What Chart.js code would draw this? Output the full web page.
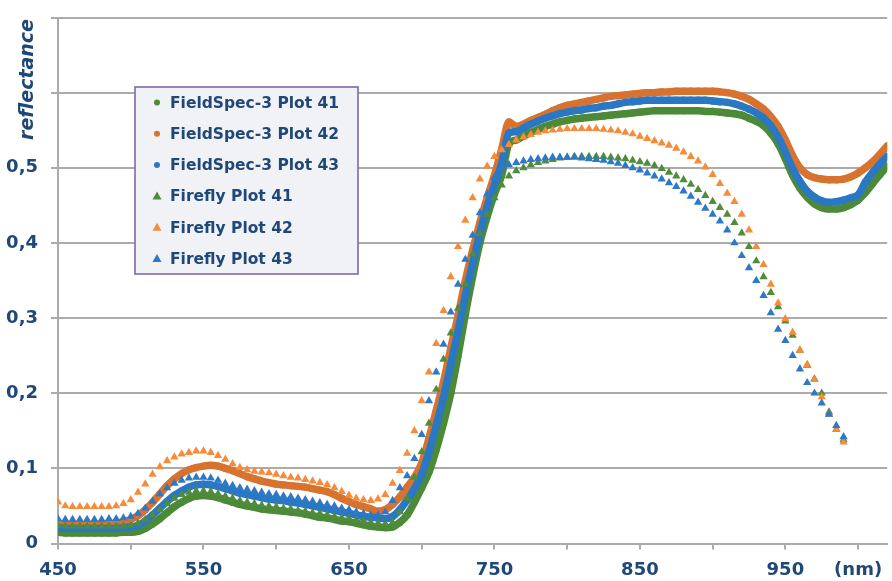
<!DOCTYPE html>
<html>
<head>
<meta charset="utf-8">
<title>Reflectance spectra</title>
<script src="https://cdn.jsdelivr.net/npm/chart.js@4.4.1/dist/chart.umd.min.js"></script>
<style>
  html, body { margin: 0; padding: 0; background: #ffffff; }
  #wrap { width: 892px; height: 581px; }
</style>
</head>
<body>
<div id="wrap"><canvas id="chart" width="892" height="581"></canvas></div>
<script>
// Wavelengths (nm) of the FieldSpec-3 samples; the Firefly samples stop at 990 nm.
const fieldSpecWavelengths = [
  450, 455, 460, 465, 470, 475, 480, 485, 490, 495,
  500, 505, 510, 515, 520, 525, 530, 535, 540, 545,
  550, 555, 560, 565, 570, 575, 580, 585, 590, 595,
  600, 605, 610, 615, 620, 625, 630, 635, 640, 645,
  650, 655, 660, 665, 670, 675, 680, 685, 690, 695,
  700, 705, 710, 715, 720, 725, 730, 735, 740, 745,
  750, 755, 760, 765, 770, 775, 780, 785, 790, 795,
  800, 805, 810, 815, 820, 825, 830, 835, 840, 845,
  850, 855, 860, 865, 870, 875, 880, 885, 890, 895,
  900, 905, 910, 915, 920, 925, 930, 935, 940, 945,
  950, 955, 960, 965, 970, 975, 980, 985, 990, 995,
  1000, 1005, 1010, 1015, 1020
];
const fireflyWavelengths = fieldSpecWavelengths.filter(w => w <= 990);

// FieldSpec-3 reflectance
const fieldSpec41 = [
  0.015, 0.014, 0.014, 0.014, 0.014, 0.014, 0.014, 0.014, 0.014, 0.015,
  0.015, 0.016, 0.020, 0.026, 0.033, 0.041, 0.049, 0.055, 0.060, 0.063,
  0.064, 0.063, 0.061, 0.058, 0.055, 0.052, 0.050, 0.048, 0.046, 0.045,
  0.044, 0.043, 0.042, 0.041, 0.039, 0.037, 0.035, 0.034, 0.032, 0.030,
  0.029, 0.027, 0.025, 0.023, 0.022, 0.021, 0.022, 0.028, 0.038, 0.055,
  0.074, 0.095, 0.125, 0.160, 0.200, 0.250, 0.305, 0.355, 0.400, 0.435,
  0.465, 0.490, 0.532, 0.537, 0.542, 0.547, 0.551, 0.555, 0.558, 0.561,
  0.563, 0.565, 0.566, 0.567, 0.568, 0.569, 0.570, 0.571, 0.572, 0.573,
  0.574, 0.575, 0.576, 0.576, 0.576, 0.576, 0.576, 0.576, 0.576, 0.575,
  0.575, 0.574, 0.573, 0.572, 0.570, 0.566, 0.562, 0.556, 0.546, 0.532,
  0.512, 0.490, 0.473, 0.461, 0.452, 0.447, 0.445, 0.445, 0.447, 0.451,
  0.457, 0.467, 0.479, 0.491, 0.502
];
const fieldSpec42 = [
  0.026, 0.025, 0.025, 0.025, 0.025, 0.025, 0.025, 0.026, 0.027, 0.029,
  0.032, 0.037, 0.045, 0.055, 0.066, 0.077, 0.086, 0.093, 0.098, 0.101,
  0.103, 0.104, 0.103, 0.100, 0.097, 0.093, 0.089, 0.086, 0.083, 0.081,
  0.079, 0.078, 0.077, 0.076, 0.075, 0.073, 0.071, 0.069, 0.065, 0.060,
  0.056, 0.052, 0.049, 0.046, 0.043, 0.045, 0.052, 0.062, 0.075, 0.088,
  0.107, 0.140, 0.177, 0.215, 0.260, 0.303, 0.350, 0.390, 0.427, 0.460,
  0.490, 0.525, 0.561, 0.555, 0.558, 0.563, 0.567, 0.571, 0.576, 0.580,
  0.583, 0.585, 0.587, 0.589, 0.591, 0.593, 0.595, 0.596, 0.597, 0.598,
  0.599, 0.600, 0.600, 0.601, 0.601, 0.602, 0.602, 0.602, 0.602, 0.602,
  0.602, 0.601, 0.600, 0.598, 0.595, 0.591, 0.585, 0.578, 0.568, 0.555,
  0.537, 0.516, 0.500, 0.491, 0.487, 0.485, 0.484, 0.484, 0.485, 0.488,
  0.493, 0.500, 0.508, 0.518, 0.529
];
const fieldSpec43 = [
  0.021, 0.020, 0.020, 0.020, 0.020, 0.020, 0.020, 0.020, 0.020, 0.021,
  0.022, 0.024, 0.030, 0.038, 0.047, 0.056, 0.064, 0.070, 0.075, 0.078,
  0.079, 0.078, 0.076, 0.073, 0.070, 0.067, 0.065, 0.063, 0.061, 0.059,
  0.058, 0.057, 0.055, 0.054, 0.052, 0.050, 0.048, 0.046, 0.044, 0.042,
  0.040, 0.038, 0.036, 0.035, 0.034, 0.033, 0.036, 0.045, 0.058, 0.073,
  0.092, 0.122, 0.157, 0.195, 0.238, 0.283, 0.330, 0.372, 0.413, 0.448,
  0.477, 0.506, 0.546, 0.548, 0.553, 0.558, 0.562, 0.566, 0.569, 0.572,
  0.574, 0.576, 0.577, 0.579, 0.580, 0.582, 0.583, 0.585, 0.587, 0.588,
  0.589, 0.590, 0.590, 0.590, 0.590, 0.590, 0.590, 0.590, 0.590, 0.590,
  0.589, 0.588, 0.587, 0.585, 0.582, 0.578, 0.573, 0.566, 0.556, 0.541,
  0.521, 0.499, 0.482, 0.469, 0.461, 0.456, 0.454, 0.455, 0.457, 0.460,
  0.464, 0.481, 0.494, 0.505, 0.515
];

// Firefly reflectance
const firefly41 = [
  0.024, 0.023, 0.023, 0.023, 0.023, 0.023, 0.023, 0.023, 0.023, 0.023,
  0.024, 0.027, 0.032, 0.038, 0.045, 0.053, 0.060, 0.065, 0.068, 0.070,
  0.070, 0.069, 0.066, 0.063, 0.060, 0.057, 0.055, 0.053, 0.051, 0.050,
  0.049, 0.047, 0.046, 0.044, 0.043, 0.041, 0.040, 0.038, 0.036, 0.034,
  0.033, 0.031, 0.030, 0.028, 0.027, 0.026, 0.028, 0.042, 0.060, 0.088,
  0.122, 0.160, 0.205, 0.245, 0.280, 0.313, 0.345, 0.385, 0.412, 0.438,
  0.460, 0.477, 0.489, 0.496, 0.500, 0.504, 0.507, 0.509, 0.511, 0.513,
  0.514, 0.515, 0.515, 0.515, 0.515, 0.515, 0.514, 0.513, 0.512, 0.510,
  0.508, 0.506, 0.503, 0.499, 0.494, 0.489, 0.484, 0.478, 0.471, 0.463,
  0.455, 0.447, 0.438, 0.427, 0.413, 0.395, 0.376, 0.355, 0.334, 0.315,
  0.296, 0.277, 0.257, 0.237, 0.219, 0.200, 0.175, 0.152, 0.138
];
const firefly42 = [
  0.055, 0.050, 0.049, 0.049, 0.049, 0.049, 0.049, 0.049, 0.050, 0.053,
  0.058, 0.068, 0.079, 0.092, 0.102, 0.110, 0.115, 0.119, 0.121, 0.123,
  0.123, 0.121, 0.117, 0.112, 0.106, 0.101, 0.098, 0.096, 0.095, 0.094,
  0.092, 0.090, 0.088, 0.087, 0.085, 0.083, 0.081, 0.078, 0.074, 0.069,
  0.064, 0.060, 0.058, 0.057, 0.059, 0.065, 0.080, 0.097, 0.120, 0.150,
  0.190, 0.228, 0.266, 0.310, 0.355, 0.395, 0.430, 0.460, 0.485, 0.502,
  0.515, 0.524, 0.531, 0.537, 0.541, 0.544, 0.547, 0.549, 0.550, 0.551,
  0.552, 0.552, 0.552, 0.552, 0.552, 0.551, 0.550, 0.549, 0.547, 0.545,
  0.542, 0.539, 0.536, 0.533, 0.530, 0.526, 0.521, 0.515, 0.509, 0.501,
  0.491, 0.479, 0.466, 0.455, 0.438, 0.417, 0.395, 0.371, 0.345, 0.320,
  0.299, 0.281, 0.257, 0.238, 0.218, 0.195, 0.172, 0.152, 0.135
];
const firefly43 = [
  0.033, 0.032, 0.032, 0.032, 0.032, 0.032, 0.032, 0.033, 0.033, 0.034,
  0.036, 0.040, 0.047, 0.056, 0.066, 0.074, 0.080, 0.084, 0.087, 0.088,
  0.088, 0.087, 0.084, 0.080, 0.077, 0.074, 0.072, 0.070, 0.068, 0.066,
  0.065, 0.063, 0.062, 0.060, 0.058, 0.056, 0.054, 0.052, 0.050, 0.047,
  0.045, 0.042, 0.040, 0.038, 0.038, 0.042, 0.057, 0.074, 0.090, 0.113,
  0.145, 0.190, 0.228, 0.265, 0.308, 0.345, 0.378, 0.410, 0.440, 0.465,
  0.487, 0.500, 0.504, 0.507, 0.509, 0.511, 0.512, 0.513, 0.514, 0.514,
  0.514, 0.514, 0.513, 0.512, 0.511, 0.510, 0.508, 0.506, 0.503, 0.500,
  0.497, 0.493, 0.489, 0.485, 0.480, 0.475, 0.469, 0.462, 0.454, 0.446,
  0.438, 0.429, 0.417, 0.400, 0.383, 0.367, 0.350, 0.330, 0.307, 0.285,
  0.270, 0.250, 0.232, 0.214, 0.200, 0.187, 0.172, 0.157, 0.142
];

// Axis ticks
const xTickValues = [450, 500, 550, 600, 650, 700, 750, 800, 850, 900, 950, 1000];
const xTickLabels = ['450', '', '550', '', '650', '', '750', '', '850', '', '950', '(nm)'];
const yTickValues = [0, 0.1, 0.2, 0.3, 0.4, 0.5, 0.6, 0.7];
const yTickLabels = ['0', '0,1', '0,2', '0,3', '0,4', '0,5', '', ''];

const seriesNames = [
  'FieldSpec-3 Plot 41', 'FieldSpec-3 Plot 42', 'FieldSpec-3 Plot 43',
  'Firefly Plot 41', 'Firefly Plot 42', 'Firefly Plot 43'
];

const NAVY = '#1F4778';
const GRID = '#ababab';

function toPoints(xs, ys) {
  return ys.map((y, i) => ({ x: xs[i], y: y }));
}

function fieldSpecSet(label, data, color, order) {
  return {
    label: label,
    data: toPoints(fieldSpecWavelengths, data),
    borderColor: color,
    backgroundColor: color,
    borderWidth: 7.5,
    borderCapStyle: 'round',
    borderJoinStyle: 'round',
    cubicInterpolationMode: 'monotone',
    pointStyle: 'circle',
    pointRadius: 3.6,
    pointBorderWidth: 0,
    showLine: true,
    order: order
  };
}

function fireflySet(label, data, color, order) {
  return {
    label: label,
    data: toPoints(fireflyWavelengths, data),
    borderColor: color,
    backgroundColor: color,
    showLine: false,
    pointStyle: 'triangle',
    pointRadius: 4.8,
    pointBorderWidth: 0,
    order: order
  };
}

// Boxed legend drawn inside the plot area
const boxedLegend = {
  id: 'boxedLegend',
  afterDatasetsDraw(chart) {
    const ctx = chart.ctx;
    const bx = 135, by = 87, bw = 223, bh = 187;
    ctx.save();
    ctx.fillStyle = '#F1F2F6';
    ctx.fillRect(bx, by, bw, bh);
    ctx.strokeStyle = '#7F68A8';
    ctx.lineWidth = 1.6;
    ctx.strokeRect(bx, by, bw, bh);
    ctx.font = 'bold 15.5px "DejaVu Sans"';
    ctx.textBaseline = 'middle';
    ctx.textAlign = 'left';
    chart.data.datasets.forEach((ds, i) => {
      const y = by + 15.5 + i * 31.3;
      const mx = bx + 22;
      ctx.fillStyle = ds.backgroundColor;
      ctx.beginPath();
      if (ds.pointStyle === 'triangle') {
        ctx.moveTo(mx, y - 5);
        ctx.lineTo(mx + 4.5, y + 3);
        ctx.lineTo(mx - 4.5, y + 3);
        ctx.closePath();
      } else {
        ctx.arc(mx, y, 3, 0, Math.PI * 2);
      }
      ctx.fill();
      ctx.fillStyle = NAVY;
      ctx.fillText(ds.label, bx + 35, y + 1);
    });
    ctx.restore();
  }
};

// Rotated y-axis caption sitting above the tick labels
const yCaption = {
  id: 'yCaption',
  afterDraw(chart) {
    const ctx = chart.ctx;
    ctx.save();
    ctx.translate(33, chart.chartArea.top + 62);
    ctx.rotate(-Math.PI / 2);
    ctx.font = 'italic bold 19px "DejaVu Sans"';
    ctx.fillStyle = NAVY;
    ctx.textAlign = 'center';
    ctx.textBaseline = 'alphabetic';
    ctx.fillText('reflectance', 0, 0);
    ctx.restore();
  }
};

const tickFont = { family: 'DejaVu Sans', weight: 'bold', size: 18 };

new Chart(document.getElementById('chart'), {
  type: 'scatter',
  data: {
    datasets: [
      fieldSpecSet(seriesNames[0], fieldSpec41, '#4C8A38', 6),
      fieldSpecSet(seriesNames[1], fieldSpec42, '#D8722F', 5),
      fieldSpecSet(seriesNames[2], fieldSpec43, '#2A78C4', 4),
      fireflySet(seriesNames[3], firefly41, '#4F8C3B', 3),
      fireflySet(seriesNames[4], firefly42, '#F68B3A', 2),
      fireflySet(seriesNames[5], firefly43, '#2D79C7', 1)
    ]
  },
  options: {
    responsive: false,
    devicePixelRatio: 1,
    animation: false,
    layout: { padding: { top: 17.5, right: 0, bottom: 0, left: 0 } },
    plugins: {
      legend: { display: false },
      tooltip: { enabled: false },
      title: { display: false }
    },
    scales: {
      x: {
        type: 'linear',
        min: 450,
        max: 1020,
        afterBuildTicks(scale) {
          scale.ticks = xTickValues.map(v => ({ value: v }));
        },
        afterFit(scale) {
          scale.height = 37.5;
          scale.paddingLeft = 0;
          scale.paddingRight = 0;
        },
        ticks: {
          autoSkip: false,
          maxRotation: 0,
          padding: 10,
          color: NAVY,
          font: tickFont,
          callback: (value, index) => xTickLabels[index]
        },
        grid: {
          drawOnChartArea: false,
          drawTicks: true,
          tickLength: 6,
          color: GRID,
          lineWidth: 2
        },
        border: { display: true, color: GRID, width: 2 }
      },
      y: {
        type: 'linear',
        min: 0,
        max: 0.7,
        afterBuildTicks(scale) {
          scale.ticks = yTickValues.map(v => ({ value: v }));
        },
        afterFit(scale) {
          scale.width = 58;
          scale.paddingTop = 0;
          scale.paddingBottom = 0;
        },
        ticks: {
          autoSkip: false,
          padding: 13,
          color: NAVY,
          font: tickFont,
          callback: (value, index) => yTickLabels[index]
        },
        grid: {
          drawTicks: true,
          tickLength: 7,
          color: GRID,
          lineWidth: 2
        },
        border: { display: true, color: GRID, width: 2 }
      }
    }
  },
  plugins: [boxedLegend, yCaption]
});
</script>
</body>
</html>
